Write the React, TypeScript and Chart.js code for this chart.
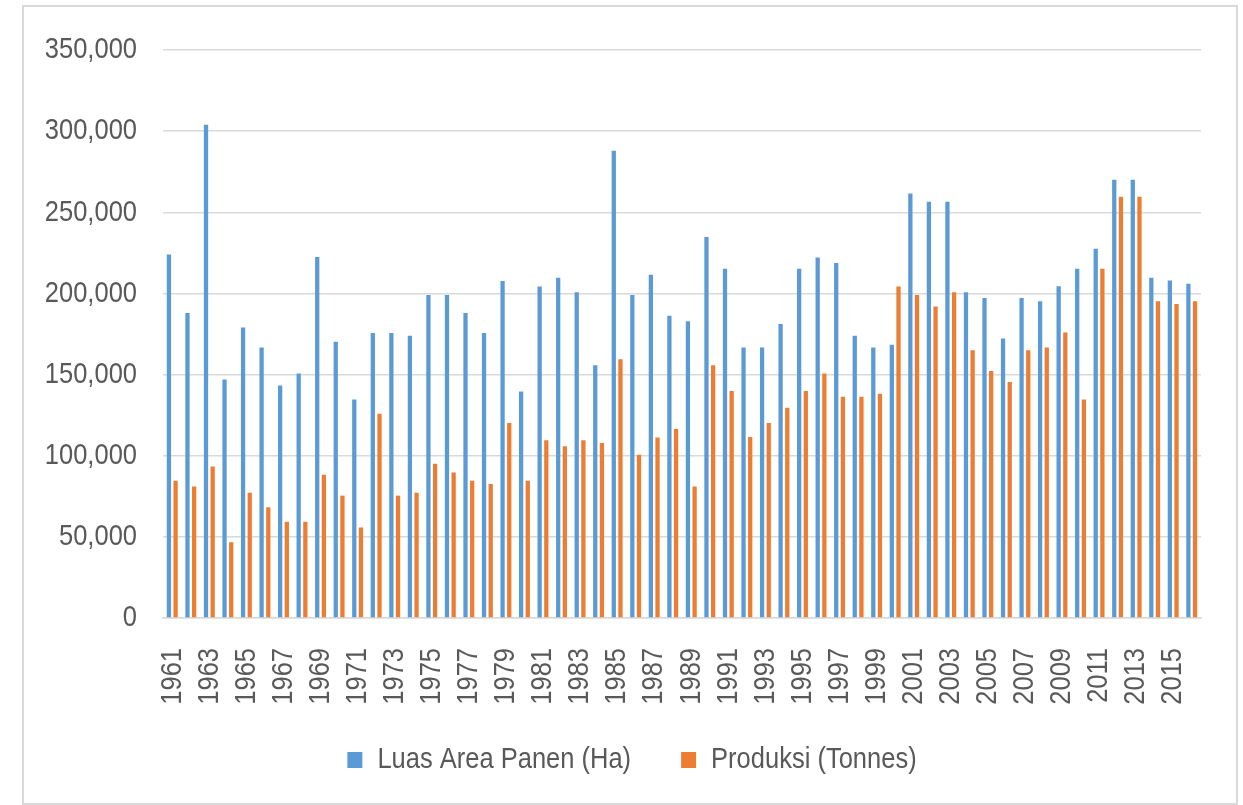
import React, { useEffect, useRef } from "react";
import { Chart, registerables } from "chart.js";

Chart.register(...registerables);

const years: string[] = [
  "1961", "1962", "1963", "1964", "1965", "1966", "1967", "1968", "1969", "1970",
  "1971", "1972", "1973", "1974", "1975", "1976", "1977", "1978", "1979", "1980",
  "1981", "1982", "1983", "1984", "1985", "1986", "1987", "1988", "1989", "1990",
  "1991", "1992", "1993", "1994", "1995", "1996", "1997", "1998", "1999", "2000",
  "2001", "2002", "2003", "2004", "2005", "2006", "2007", "2008", "2009", "2010",
  "2011", "2012", "2013", "2014", "2015", "2016",
];

const luasAreaPanen: number[] = [
  224000, 188000, 304000, 147000, 179000, 166700, 143300, 150600, 222400, 170200,
  134600, 175600, 175600, 173900, 199100, 199100, 187900, 175600, 207600, 139600,
  204300, 209600, 200800, 155700, 287900, 199100, 211500, 186300, 182800, 234800,
  215200, 166700, 166700, 181100, 215200, 222200, 218700, 173900, 166700, 168300,
  261500, 256500, 256500, 200800, 197200, 172200, 197200, 195200, 204500, 215200,
  227600, 270000, 270000, 209600, 208000, 205900,
];

const produksi: number[] = [
  84500, 81000, 93400, 46700, 77200, 68200, 59300, 59300, 88200, 75400,
  55800, 125800, 75400, 77200, 95000, 89600, 84500, 82600, 120200, 84500,
  109500, 105800, 109500, 107800, 159400, 100600, 111300, 116500, 81000, 155700,
  139800, 111500, 120200, 129500, 139800, 150600, 136300, 136300, 138200, 204300,
  199100, 191900, 200800, 165000, 152200, 145400, 165000, 166700, 176000, 134600,
  215200, 259600, 259600, 195200, 193500, 195200,
];

const yTicks: number[] = [0, 50000, 100000, 150000, 200000, 250000, 300000, 350000];

const FONT_FAMILY = "'Liberation Sans', Arial, sans-serif";
const TEXT_COLOR = "#595959";
const GRID_COLOR = "#d9d9d9";
const NARROW = 0.85; // horizontal squeeze to imitate a narrow typeface

function makeTextNarrow(ctx: CanvasRenderingContext2D) {
  const origFill = ctx.fillText.bind(ctx);
  const origMeasure = ctx.measureText.bind(ctx);
  (ctx as any).measureText = (text: string) => {
    const m = origMeasure(text);
    return {
      width: m.width * NARROW,
      actualBoundingBoxAscent: m.actualBoundingBoxAscent,
      actualBoundingBoxDescent: m.actualBoundingBoxDescent,
      actualBoundingBoxLeft: m.actualBoundingBoxLeft * NARROW,
      actualBoundingBoxRight: m.actualBoundingBoxRight * NARROW,
      fontBoundingBoxAscent: m.fontBoundingBoxAscent,
      fontBoundingBoxDescent: m.fontBoundingBoxDescent,
    };
  };
  (ctx as any).fillText = (text: string, x: number, y: number, maxWidth?: number) => {
    ctx.save();
    ctx.translate(x, y);
    ctx.scale(NARROW, 1);
    if (maxWidth !== undefined) origFill(text, 0, 0, maxWidth / NARROW);
    else origFill(text, 0, 0);
    ctx.restore();
  };
}

export default function App() {
  const canvasRef = useRef<HTMLCanvasElement | null>(null);

  useEffect(() => {
    document.body.style.margin = "0";
    document.body.style.background = "#ffffff";
    const canvas = canvasRef.current;
    if (!canvas) return;
    const ctx = canvas.getContext("2d");
    if (ctx) makeTextNarrow(ctx);
    const chart = new Chart(canvas, {
      type: "bar",
      data: {
        labels: years,
        datasets: [
          {
            label: "Luas Area Panen (Ha)",
            data: luasAreaPanen,
            backgroundColor: "#5B9BD5",
            borderWidth: 0,
            categoryPercentage: 0.72,
            barPercentage: 0.64,
          },
          {
            label: "Produksi (Tonnes)",
            data: produksi,
            backgroundColor: "#ED7D31",
            borderWidth: 0,
            categoryPercentage: 0.72,
            barPercentage: 0.64,
          },
        ],
      },
      options: {
        animation: false,
        responsive: false,
        maintainAspectRatio: false,
        devicePixelRatio: 1,
        layout: {
          padding: { top: 50, left: 63, right: 42, bottom: 20 },
        },
        plugins: {
          tooltip: { enabled: false },
          legend: {
            position: "bottom",
            maxHeight: 100,
            labels: {
              boxWidth: 15,
              boxHeight: 16,
              padding: 50,
              color: TEXT_COLOR,
              font: { family: FONT_FAMILY, size: 30 },
            },
          },
        },
        scales: {
          x: {
            grid: { display: false, drawTicks: false },
            border: { display: true, color: GRID_COLOR, width: 1.5 },
            ticks: {
              autoSkip: false,
              maxRotation: 90,
              minRotation: 90,
              padding: 30,
              color: TEXT_COLOR,
              font: { family: FONT_FAMILY, size: 30 },
              callback: (_v: any, i: number) => (i % 2 === 0 ? years[i] : ""),
            },
            afterFit: (scale: any) => {
              scale.height = 77;
              scale.paddingLeft = 0;
              scale.paddingRight = 0;
              // let the rotated year labels run below the axis box without clipping
              scale._computeLabelArea = () => undefined;
            },
          },
          y: {
            min: 0,
            max: 350000,
            afterBuildTicks: (scale: any) => {
              scale.ticks = yTicks.map((v) => ({ value: v }));
            },
            grid: { color: GRID_COLOR, lineWidth: 1.5, drawTicks: false },
            border: { display: false },
            ticks: {
              padding: 26,
              color: TEXT_COLOR,
              font: { family: FONT_FAMILY, size: 30 },
              callback: (v: any) => Number(v).toLocaleString("en-US"),
            },
            afterFit: (scale: any) => {
              scale.width = 100;
              scale._computeLabelArea = () => undefined;
            },
          },
        },
      },
    });
    return () => chart.destroy();
  }, []);

  return (
    <div style={{ position: "relative", width: 1243, height: 805, background: "#fff" }}>
      <div
        style={{
          position: "absolute",
          left: 22,
          top: 5,
          width: 1216,
          height: 800,
          border: "2px solid #d9d9d9",
          boxSizing: "border-box",
        }}
      />
      <canvas
        ref={canvasRef}
        width={1243}
        height={805}
        style={{ position: "absolute", left: 0, top: 0, width: 1243, height: 805 }}
      />
    </div>
  );
}
